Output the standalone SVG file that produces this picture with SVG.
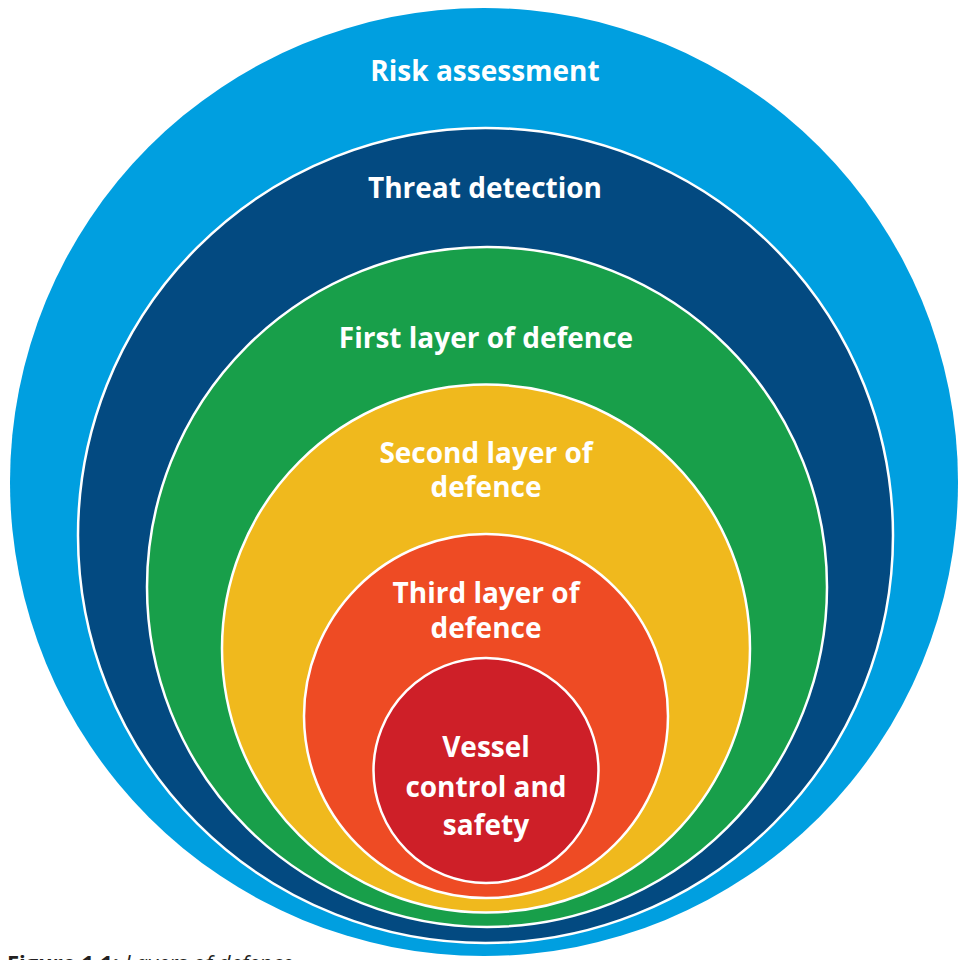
<svg xmlns="http://www.w3.org/2000/svg" width="960" height="960" viewBox="0 0 960 960">
<style>
.ring{stroke:#fff;stroke-width:2.5}
.lbl{font-family:"Open Sans","Noto Sans","Liberation Sans",sans-serif;font-weight:bold;font-size:28px;fill:#fff;text-anchor:middle}
.cap{font-family:"Source Sans Pro","Open Sans","Liberation Sans",sans-serif;font-size:22px;fill:#231F20}
</style>
<rect width="960" height="960" fill="#fff"/>
<g id="risk-assessment">
<circle cx="484" cy="482" r="474" fill="#009FE0"/>
<text class="lbl" x="485" y="81">Risk assessment</text>
</g>
<g id="threat-detection">
<circle class="ring" cx="485.5" cy="535.5" r="407.5" fill="#034A81"/>
<text class="lbl" x="485" y="198">Threat detection</text>
</g>
<g id="first-layer">
<circle class="ring" cx="487" cy="587" r="340" fill="#189F4A"/>
<text class="lbl" x="486" y="348">First layer of defence</text>
</g>
<g id="second-layer">
<circle class="ring" cx="486" cy="648.5" r="264" fill="#F0B91D"/>
<text class="lbl" x="486" y="463">Second layer of</text>
<text class="lbl" x="486" y="497">defence</text>
</g>
<g id="third-layer">
<circle class="ring" cx="486" cy="716" r="182" fill="#EE4B24"/>
<text class="lbl" x="486" y="603">Third layer of</text>
<text class="lbl" x="486" y="638">defence</text>
</g>
<g id="vessel-control">
<circle class="ring" cx="486" cy="770.5" r="112.5" fill="#CE1F28"/>
<text class="lbl" x="486" y="757">Vessel</text>
<text class="lbl" x="486" y="797">control and</text>
<text class="lbl" x="486" y="835">safety</text>
</g>
<g id="connectors"></g>
<text class="cap" x="7" y="971"><tspan font-weight="bold">Figure 1.1:</tspan> <tspan font-style="italic">Layers of defence</tspan></text>
</svg>
